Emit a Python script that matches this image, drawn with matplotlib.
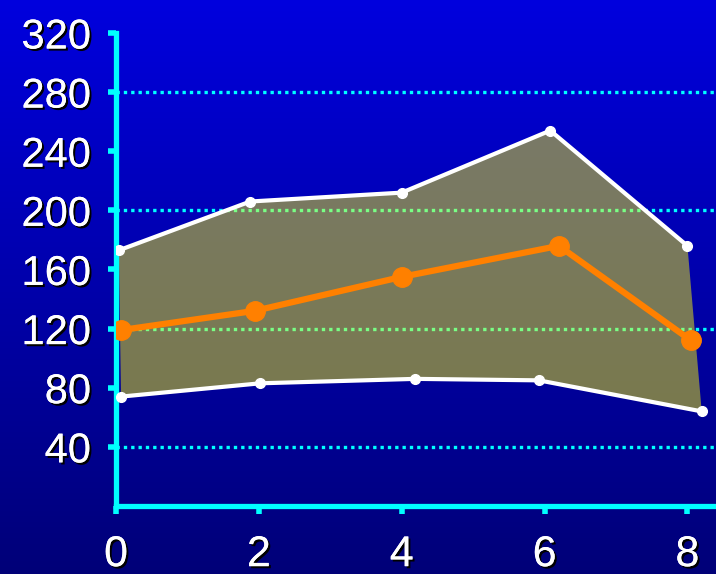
import matplotlib
matplotlib.use('Agg')
import matplotlib.pyplot as plt
import matplotlib.patheffects as pe
import numpy as np

plt.rcParams['font.family'] = ['Liberation Sans', 'DejaVu Sans']

# upper boundary (white line)
UpperX = [0.04, 1.88, 4.0, 6.08, 8.0]
UpperY = [173, 206, 212, 254, 176]

# lower boundary (white line)
LowerX = [0.07, 2.02, 4.19, 5.92, 8.2]
LowerY = [74, 83, 86, 85, 64]

# middle line (orange)
MidX = [0.07, 1.94, 4.0, 6.2, 8.05]
MidY = [119, 132, 155, 176, 112]

YTicks = [40, 80, 120, 160, 200, 240, 280, 320]
GridTicks = [40, 120, 200, 280]
XTicks = [0, 2, 4, 6, 8]

fig = plt.figure(figsize=(7.16, 5.74), dpi=100)

# background gradient
bg = fig.add_axes([0, 0, 1, 1], zorder=-10)
grad = np.linspace(0, 1, 256).reshape(-1, 1)
top = np.array([0.0, 0.0, 0.87])
bottom = np.array([0.0, 0.0, 0.47])
img = top + (bottom - top) * grad[:, :, None]
bg.imshow(img, aspect='auto', extent=[0, 1, 0, 1])
bg.axis('off')

ax = fig.add_axes([0.162, 0.1185, 0.838, 0.824])
ax.patch.set_alpha(0)
ax.set_xlim(0, 8.4)
ax.set_ylim(0, 320)

# dotted grid lines
for g in GridTicks:
    ax.axhline(g, color='#00ffff', lw=2.4, linestyle=(0, (1, 1.2)), zorder=1)

# shaded band
PolyX = UpperX + LowerX[::-1]
PolyY = UpperY + LowerY[::-1]
ax.fill(PolyX, PolyY, color='#ffff00', alpha=0.48, lw=0, zorder=2)

# boundary lines
ax.plot(UpperX, UpperY, color='white', lw=3, marker='o', ms=7, zorder=3)
ax.plot(LowerX, LowerY, color='white', lw=3, marker='o', ms=7, zorder=3)

# middle line
ax.plot(MidX, MidY, color='#ff8000', lw=4.5, marker='o', ms=14, zorder=4)

# axes styling
for s in ['top', 'right']:
    ax.spines[s].set_visible(False)
for s in ['left', 'bottom']:
    ax.spines[s].set_color('#00ffff')
    ax.spines[s].set_linewidth(3.8)

shadow = [pe.withSimplePatchShadow(offset=(1.5, -1.5), shadow_rgbFace='black', alpha=1), pe.Normal()]

ax.set_yticks(YTicks)
ax.set_yticklabels([str(v) for v in YTicks])
ax.set_xticks(XTicks)
ax.set_xticklabels([str(v) for v in XTicks])
ax.tick_params(axis='y', colors='#00ffff', length=6, width=4, labelsize=30, labelcolor='white', pad=12)
ax.tick_params(axis='x', colors='#00ffff', length=6, width=4, labelsize=31, labelcolor='white', pad=15)
for t in ax.get_xticklabels() + ax.get_yticklabels():
    t.set_path_effects(shadow)

fig.savefig('out.png', dpi=100)
